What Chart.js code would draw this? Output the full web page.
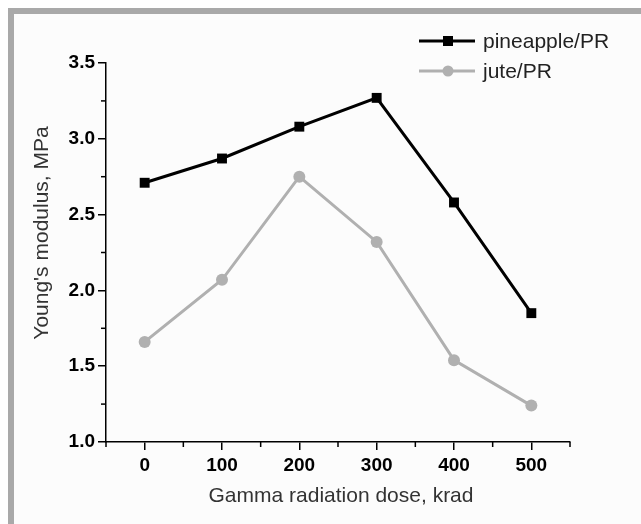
<!DOCTYPE html>
<html>
<head>
<meta charset="utf-8">
<script src="https://cdn.jsdelivr.net/npm/chart.js@4.4.1/dist/chart.umd.min.js"></script>
<style>
  html, body { margin: 0; padding: 0; background: #fff; }
  #wrap { position: relative; width: 641px; height: 524px; overflow: hidden; }
  #frame {
    position: absolute; left: 8px; top: 8px; right: 0; bottom: 0;
    border-top: 6px solid #a9a9a9; border-left: 6px solid #a9a9a9;
    background: #fcfcfc;
  }
  #chart { position: absolute; left: 0; top: 0; }
</style>
</head>
<body>
<div id="wrap">
  <div id="frame"></div>
  <canvas id="chart" width="641" height="524"></canvas>
</div>
<script>
const doses = [0, 100, 200, 300, 400, 500];
const pineapple = [2.71, 2.87, 3.08, 3.27, 2.58, 1.85];
const jute = [1.66, 2.07, 2.75, 2.32, 1.54, 1.24];

const xTickValues = [-50, 0, 50, 100, 150, 200, 250, 300, 350, 400, 450, 500, 550];
const xLabelValues = [0, 100, 200, 300, 400, 500];
const yTickValues = [1.0, 1.25, 1.5, 1.75, 2.0, 2.25, 2.5, 2.75, 3.0, 3.25, 3.5];
const yLabelValues = [1.0, 1.5, 2.0, 2.5, 3.0, 3.5];

const xTitle = 'Gamma radiation dose, krad';
const yTitle = "Young's modulus, MPa";

const FONT = "'Liberation Sans', Arial, sans-serif";

function isLabelled(list, value) {
  return list.some((v) => Math.abs(v - value) < 1e-6);
}

function toPoints(values) {
  return doses.map((d, i) => ({ x: d, y: values[i] }));
}

// minor ticks are shorter than the major ones, so draw them here
const minorTicks = {
  id: 'minorTicks',
  afterDraw(chart) {
    const { ctx, chartArea, scales } = chart;
    ctx.save();
    ctx.strokeStyle = '#000';
    ctx.lineWidth = 1.5;
    xTickValues.filter((v) => !isLabelled(xLabelValues, v)).forEach((v) => {
      const px = scales.x.getPixelForValue(v);
      ctx.beginPath();
      ctx.moveTo(px, chartArea.bottom);
      ctx.lineTo(px, chartArea.bottom + 5);
      ctx.stroke();
    });
    yTickValues.filter((v) => !isLabelled(yLabelValues, v)).forEach((v) => {
      const py = scales.y.getPixelForValue(v);
      ctx.beginPath();
      ctx.moveTo(chartArea.left, py);
      ctx.lineTo(chartArea.left - 5, py);
      ctx.stroke();
    });
    ctx.restore();
  },
};

const titlesAndLegend = {
  id: 'titlesAndLegend',
  afterDraw(chart) {
    const { ctx } = chart;
    ctx.save();
    ctx.fillStyle = '#333';
    ctx.font = `21px ${FONT}`;
    ctx.textAlign = 'center';
    ctx.textBaseline = 'middle';
    ctx.fillText(xTitle, 341, 496);

    ctx.translate(42, 233);
    ctx.rotate(-Math.PI / 2);
    ctx.fillText(yTitle, 0, 0);
    ctx.restore();

    ctx.save();
    chart.data.datasets.forEach((ds, i) => {
      const y = 41 + i * 30;
      ctx.strokeStyle = ds.borderColor;
      ctx.lineWidth = 3;
      ctx.beginPath();
      ctx.moveTo(419, y);
      ctx.lineTo(475, y);
      ctx.stroke();
      ctx.fillStyle = ds.pointBackgroundColor;
      if (ds.pointStyle === 'rect') {
        ctx.fillRect(448 - 5, y - 5, 10, 10);
      } else {
        ctx.beginPath();
        ctx.arc(448, y, 5.5, 0, Math.PI * 2);
        ctx.fill();
      }
      ctx.fillStyle = '#222';
      ctx.font = `21px ${FONT}`;
      ctx.textAlign = 'left';
      ctx.textBaseline = 'middle';
      ctx.fillText(ds.label, 483, y + 1);
    });
    ctx.restore();
  },
};

new Chart(document.getElementById('chart'), {
  type: 'line',
  data: {
    datasets: [
      {
        label: 'pineapple/PR',
        data: toPoints(pineapple),
        borderColor: '#000',
        borderWidth: 3,
        pointStyle: 'rect',
        pointRadius: 7,
        pointBackgroundColor: '#000',
        pointBorderColor: '#000',
        pointBorderWidth: 0,
        tension: 0,
      },
      {
        label: 'jute/PR',
        data: toPoints(jute),
        borderColor: '#b0b0b0',
        borderWidth: 3,
        pointStyle: 'circle',
        pointRadius: 6,
        pointBackgroundColor: '#b0b0b0',
        pointBorderColor: '#b0b0b0',
        pointBorderWidth: 0,
        tension: 0,
      },
    ],
  },
  options: {
    responsive: false,
    animation: false,
    layout: { padding: { top: 63, right: 71, left: 0, bottom: 0 } },
    plugins: {
      legend: { display: false },
      tooltip: { enabled: false },
    },
    scales: {
      x: {
        type: 'linear',
        min: -50,
        max: 550,
        afterBuildTicks: (scale) => {
          scale.ticks = xTickValues.map((v) => ({ value: v }));
        },
        afterFit: (scale) => {
          scale.height = 82;
        },
        ticks: {
          autoSkip: false,
          maxRotation: 0,
          padding: 4,
          color: '#000',
          font: { family: FONT, size: 19, weight: 'bold' },
          callback: (value) => (isLabelled(xLabelValues, value) ? String(value) : ''),
        },
        grid: {
          drawOnChartArea: false,
          drawTicks: true,
          tickLength: 8,
          lineWidth: 1.5,
          color: (ctx) => (ctx.tick && isLabelled(xLabelValues, ctx.tick.value) ? '#000' : 'rgba(0,0,0,0)'),
        },
        border: { display: true, color: '#000', width: 1.5 },
      },
      y: {
        type: 'linear',
        min: 1,
        max: 3.5,
        afterBuildTicks: (scale) => {
          scale.ticks = yTickValues.map((v) => ({ value: v }));
        },
        afterFit: (scale) => {
          scale.width = 106;
        },
        ticks: {
          autoSkip: false,
          padding: 3,
          color: '#000',
          font: { family: FONT, size: 19, weight: 'bold' },
          callback: (value) => (isLabelled(yLabelValues, value) ? Number(value).toFixed(1) : ''),
        },
        grid: {
          drawOnChartArea: false,
          drawTicks: true,
          tickLength: 8,
          lineWidth: 1.5,
          color: (ctx) => (ctx.tick && isLabelled(yLabelValues, ctx.tick.value) ? '#000' : 'rgba(0,0,0,0)'),
        },
        border: { display: true, color: '#000', width: 1.5 },
      },
    },
  },
  plugins: [minorTicks, titlesAndLegend],
});
</script>
</body>
</html>
